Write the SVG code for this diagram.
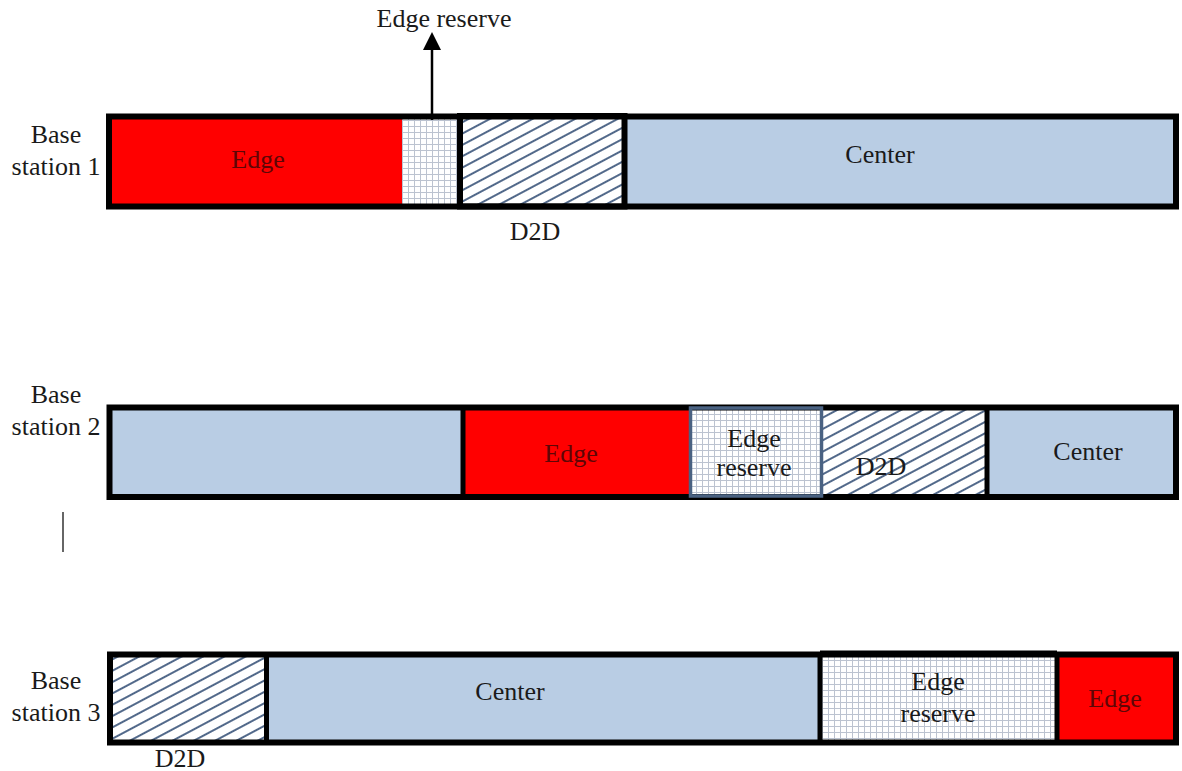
<svg xmlns="http://www.w3.org/2000/svg" width="1182" height="771" viewBox="0 0 1182 771">
<defs>
<style>
text{font-family:"Liberation Serif","Times New Roman",serif;font-size:26px;fill:#1a1a1a;text-anchor:middle}
.red{fill:#ff0000}
.blue{fill:#b9cde4}
.grid{fill:url(#grid)}
.hatch{fill:url(#hatch)}
.frame{fill:none;stroke:#000;stroke-width:6}
.div{stroke:#000;stroke-width:5}
.redtxt{fill:#5e0606}
</style>
<pattern id="grid" patternUnits="userSpaceOnUse" width="6" height="6">
<rect width="6" height="6" fill="#ffffff"/>
<path d="M0 0.5H6M0.5 0V6" stroke="#bcc3d0" stroke-width="1"/>
</pattern>
<pattern id="hatch" patternUnits="userSpaceOnUse" width="10" height="10" patternTransform="rotate(-28)">
<rect width="10" height="10" fill="#ffffff"/>
<path d="M0 5H10" stroke="#52698a" stroke-width="2"/>
</pattern>
</defs>

<g id="labels">
<text x="56" y="143">Base</text>
<text x="56" y="175">station 1</text>
<text x="56" y="403">Base</text>
<text x="56" y="435">station 2</text>
<text x="56" y="689">Base</text>
<text x="56" y="721">station 3</text>
</g>

<g id="bar1">
<rect class="red" x="109" y="116.5" width="293" height="90"/>
<rect class="grid" x="402" y="116.5" width="58" height="90"/>
<rect class="hatch" x="460" y="116.5" width="164.5" height="90"/>
<rect class="blue" x="624.5" y="116.5" width="551.5" height="90"/>
<rect class="frame" x="460" y="116" width="164.5" height="90.5"/>
<rect class="frame" x="109" y="116.5" width="1067" height="90"/>
<text class="redtxt" x="258" y="168">Edge</text>
<text x="880" y="163">Center</text>
<text x="535" y="240">D2D</text>
</g>

<g id="bar2">
<rect class="blue" x="109.5" y="407.5" width="353.5" height="89.5"/>
<rect class="red" x="463" y="407.5" width="226" height="89.5"/>
<rect class="grid" x="689" y="407.5" width="133" height="89.5"/>
<rect class="hatch" x="822" y="407.5" width="165" height="89.5"/>
<rect class="blue" x="987" y="407.5" width="189" height="89.5"/>
<line class="div" x1="463" y1="407.5" x2="463" y2="497"/>
<line class="div" x1="987" y1="407.5" x2="987" y2="497"/>
<rect class="frame" x="109.5" y="407.5" width="1066.5" height="89.5"/>
<rect x="690.5" y="408" width="131" height="88" fill="none" stroke="#4a6282" stroke-width="3.5"/>
<text class="redtxt" x="571" y="462">Edge</text>
<text x="754" y="447">Edge</text>
<text x="754" y="476">reserve</text>
<text x="881" y="475">D2D</text>
<text x="1088" y="460">Center</text>
</g>

<g id="bar3">
<rect class="hatch" x="110" y="654.5" width="156.5" height="88"/>
<rect class="blue" x="266.5" y="654.5" width="553.5" height="88"/>
<rect class="grid" x="820" y="654.5" width="237" height="88"/>
<rect class="red" x="1057" y="654.5" width="119" height="88"/>
<line class="div" x1="266.5" y1="654.5" x2="266.5" y2="742.5"/>
<line class="div" x1="820" y1="652" x2="820" y2="742.5"/>
<line class="div" x1="1057" y1="652" x2="1057" y2="742.5"/>
<rect class="frame" x="110" y="654.5" width="1066" height="88"/>
<line class="div" x1="820" y1="653" x2="1057" y2="653"/>
<text x="510" y="700">Center</text>
<text x="938" y="690">Edge</text>
<text x="938" y="722">reserve</text>
<text class="redtxt" x="1115" y="707">Edge</text>
<text x="180" y="767">D2D</text>
</g>

<g id="connectors">
<line x1="432" y1="120" x2="432" y2="48" stroke="#000" stroke-width="2.5"/>
<polygon points="423,50 441,50 432,32" fill="#000"/>
<line x1="63" y1="512" x2="63" y2="552" stroke="#333" stroke-width="1.5"/>
</g>

<g id="caption">
<text x="444" y="27">Edge reserve</text>
</g>
</svg>
